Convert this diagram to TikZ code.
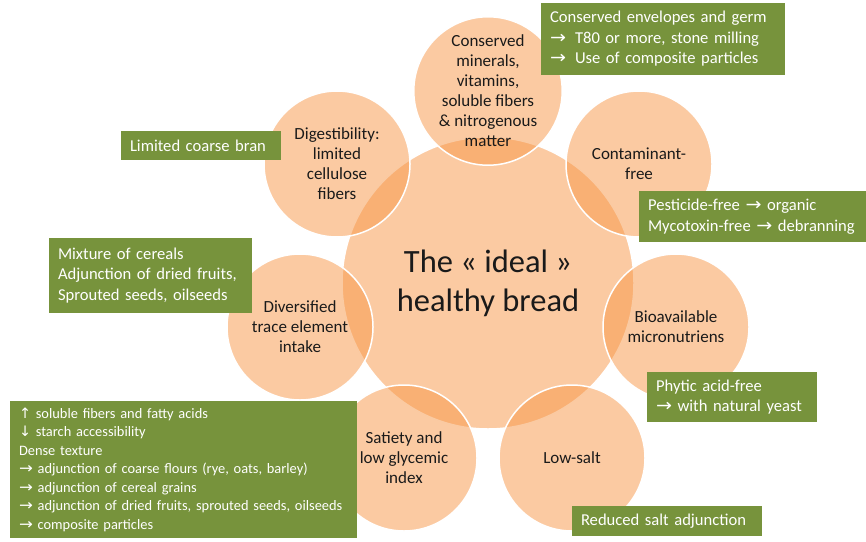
\documentclass[tikz,border=0pt]{standalone}
\usepackage{fontspec}
\setmainfont{Carlito}
\newfontfamily\arrowfont{DejaVu Sans}
\newcommand{\rarr}{{\arrowfont\scalebox{1.15}[1.05]{\char"2192}}}
\newcommand{\uarr}{{\arrowfont\char"2191}}
\newcommand{\darr}{{\arrowfont\char"2193}}
\definecolor{peach}{HTML}{F79646}
\definecolor{olivebox}{HTML}{77933C}
\definecolor{ctext}{HTML}{1A1A1A}
\begin{document}
\begin{tikzpicture}[x=1pt,y=-1pt,
  hub/.style={circle, fill=peach, fill opacity=0.5, text opacity=1, draw=white, line width=1.5pt, minimum size=292pt, inner sep=0pt, text=ctext, align=center, font=\fontsize{32.5}{39}\selectfont},
  sat/.style={circle, fill=peach, fill opacity=0.5, text opacity=1, draw=white, line width=1.5pt, minimum size=146pt, inner sep=0pt, text=ctext, align=center, font=\fontsize{17}{20}\selectfont},
  gbox/.style={rectangle, fill=olivebox, text=white, align=left, inner xsep=9pt, inner ysep=0pt, font=\fontsize{16.6}{20.5}\selectfont}
]
\useasboundingbox (0,0) rectangle (866,541);
\node[hub] (hub) at (488,283) {The « ideal »\\healthy bread};
\node[sat] (s1) at (488,91) {Conserved\\minerals,\\vitamins,\\soluble fibers\\\& nitrogenous\\matter};
\node[sat] (s2) at (639,164) {Contaminant-\\free};
\node[sat] (s3) at (676,327) {Bioavailable\\micronutriens};
\node[sat] (s4) at (572,458) {Low-salt};
\node[sat] (s5) at (404,458) {Satiety and\\low glycemic\\index};
\node[sat] (s6) at (300,327) {Diversified\\trace element\\intake};
\node[sat] (s7) at (337,164) {Digestibility:\\limited\\cellulose\\fibers};

\node[gbox, minimum width=244pt, minimum height=72pt, text width=226pt] (b1) at (663,39)
  {\mbox{Conserved envelopes and germ}\\\mbox{\rarr\hspace{9pt}T80 or more, stone milling}\\\mbox{\rarr\hspace{9pt}Use of composite particles}};
\node[gbox, minimum width=227pt, minimum height=51pt, text width=209pt] (b2) at (752.5,216.5)
  {\mbox{Pesticide-free \rarr{} organic}\\\mbox{Mycotoxin-free \rarr{} debranning}};
\node[gbox, minimum width=203pt, minimum height=75pt, text width=185pt] (b3) at (150.5,275.5)
  {\mbox{Mixture of cereals}\\\mbox{Adjunction of dried fruits,}\\\mbox{Sprouted seeds, oilseeds}};
\node[gbox, minimum width=170pt, minimum height=50pt, text width=152pt] (b4) at (732,397)
  {\mbox{Phytic acid-free}\\\mbox{\rarr{} with natural yeast}};
\node[gbox, minimum width=190pt, minimum height=30pt, text width=172pt] (b5) at (667,521)
  {\mbox{Reduced salt adjunction}};
\node[gbox, minimum width=160pt, minimum height=29pt, text width=142pt] (b6) at (201,145.5)
  {\mbox{Limited coarse bran}};
\node[gbox, minimum width=347pt, minimum height=137pt, text width=329pt, font=\fontsize{14.4}{18.5}\selectfont] (b7) at (183.5,469.5)
  {\mbox{\uarr{} soluble fibers and fatty acids}\\\mbox{\darr{} starch accessibility}\\\mbox{Dense texture}\\\mbox{\rarr{} adjunction of coarse flours (rye, oats, barley)}\\\mbox{\rarr{} adjunction of cereal grains}\\\mbox{\rarr{} adjunction of dried fruits, sprouted seeds, oilseeds}\\\mbox{\rarr{} composite particles}};
\end{tikzpicture}
\end{document}
